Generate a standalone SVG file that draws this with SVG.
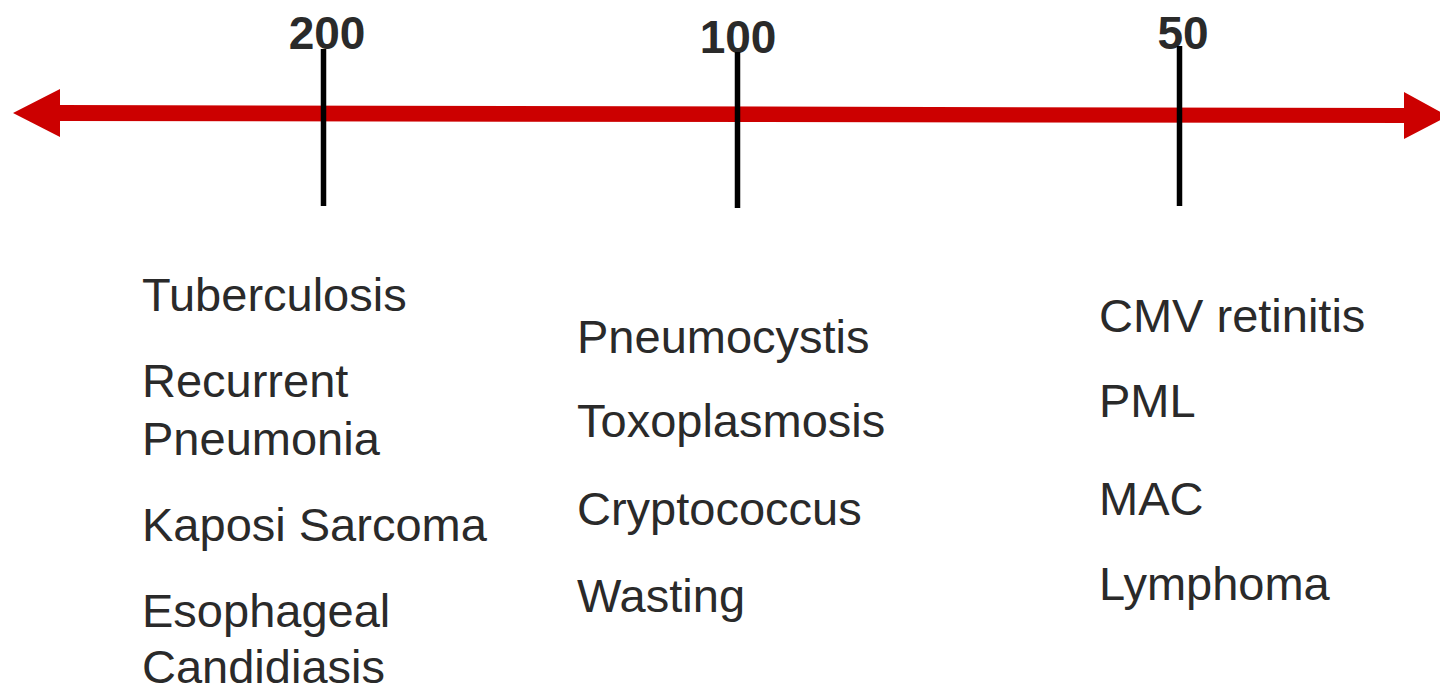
<svg xmlns="http://www.w3.org/2000/svg" width="1440" height="688" viewBox="0 0 1440 688">
  <style>
    .lbl { font-family: "Liberation Sans", Arial, sans-serif; font-size: 47px; fill: #2a2a2a; }
    .num { font-family: "Liberation Sans", Arial, sans-serif; font-size: 46px; font-weight: bold; fill: #2a2a2a; text-anchor: middle; }
    .tick { stroke: #000000; stroke-width: 5.5; }
    .axis { fill: #cc0000; }
  </style>
  <rect width="1440" height="688" fill="#ffffff"/>
  <g id="axis">
    <polygon class="axis" points="13,113 60,89 60,105 1404,108 1404,92 1448,116 1404,139 1404,123 60,121 60,137"/>
  </g>
  <g id="labels-numbers">
    <text class="num" x="327" y="49">200</text>
    <text class="num" x="738" y="53">100</text>
    <text class="num" x="1183" y="49">50</text>
  </g>
  <g id="connectors">
    <line class="tick" x1="323.5" y1="49" x2="323.5" y2="206"/>
    <line class="tick" x1="737.5" y1="52" x2="737.5" y2="208"/>
    <line class="tick" x1="1179.5" y1="46" x2="1179.5" y2="206"/>
  </g>
  <g id="col-200">
    <text class="lbl" x="142" y="311">Tuberculosis</text>
    <text class="lbl" x="142" y="397">Recurrent</text>
    <text class="lbl" x="142" y="455">Pneumonia</text>
    <text class="lbl" x="142" y="541">Kaposi Sarcoma</text>
    <text class="lbl" x="142" y="627">Esophageal</text>
    <text class="lbl" x="142" y="683">Candidiasis</text>
  </g>
  <g id="col-100">
    <text class="lbl" x="577" y="353">Pneumocystis</text>
    <text class="lbl" x="577" y="437">Toxoplasmosis</text>
    <text class="lbl" x="577" y="525">Cryptococcus</text>
    <text class="lbl" x="577" y="612">Wasting</text>
  </g>
  <g id="col-50">
    <text class="lbl" x="1099" y="332">CMV retinitis</text>
    <text class="lbl" x="1099" y="417">PML</text>
    <text class="lbl" x="1099" y="515">MAC</text>
    <text class="lbl" x="1099" y="600">Lymphoma</text>
  </g>
</svg>
